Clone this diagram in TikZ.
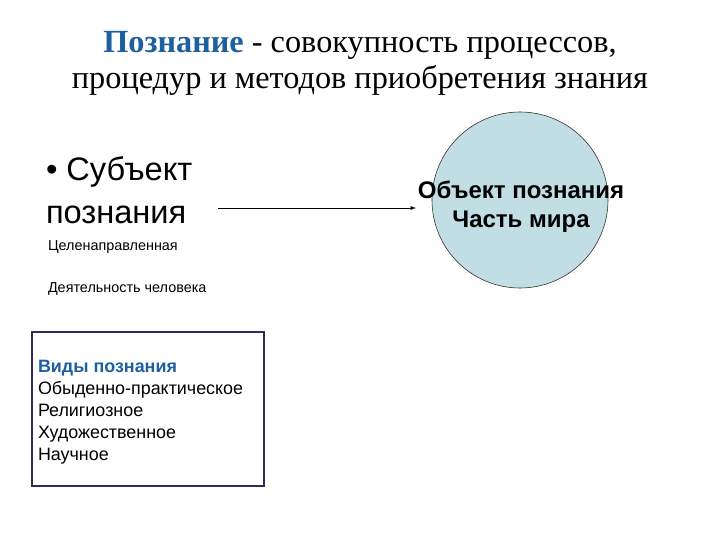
\documentclass[tikz,border=0pt]{standalone}
\usepackage{fontspec}
\setmainfont{Liberation Serif}
\newfontfamily\arialfont{Liberation Sans}
\usepackage{tikz}
\usetikzlibrary{arrows,positioning}
\definecolor{titleblue}{RGB}{30,95,160}
\definecolor{circfill}{RGB}{192,222,228}
\definecolor{boxframe}{RGB}{45,45,85}

\begin{document}
\begin{tikzpicture}[x=1pt,y=-1pt]
\tikzstyle{every node}=[inner sep=0pt,outer sep=0pt]
\tikzstyle{titletext}=[font=\fontsize{32.3}{36}\selectfont,align=center]
\tikzstyle{bigtext}=[font=\arialfont\fontsize{32.6}{36}\selectfont,anchor=west]
\tikzstyle{smalltext}=[font=\arialfont\fontsize{14.4}{16}\selectfont,anchor=west]
\tikzstyle{objcircle}=[circle,draw=black!80,fill=circfill,minimum size=176pt,line width=0.6pt]
\tikzstyle{kinds}=[draw=boxframe,line width=1.6pt,minimum width=232pt,minimum height=154pt,anchor=north west]
\useasboundingbox (0,0) rectangle (720,540);
% title
\node[titletext] (title) at (360,63)
{{\bfseries\color{titleblue}Познание} - совокупность процессов,\\
процедур и методов приобретения знания};
% subject
\node[bigtext] (subj1) at (46,172) {• Субъект};
\node[bigtext] (subj2) at (46,215) {познания};
\node[smalltext] (goal) at (48,247) {Целенаправленная};
\node[smalltext] (act) at (48,289) {Деятельность человека};
% object
\node[objcircle] (obj) at (520,200) {};
\node[font=\arialfont\bfseries\fontsize{24}{29}\selectfont,align=center] (objtext) at (521,207)
{Объект познания\\Часть мира};
\coordinate (arrstart) at (218,208);
\coordinate (arrend) at (416,208);
\draw[-latex,line width=0.9pt] (arrstart) -- (arrend);
% kinds of cognition
\node[kinds] (box) at (32,332) {};
\node[font=\arialfont\fontsize{17.9}{22}\selectfont,align=left,anchor=north west] (list) at (38,360)
{{\bfseries\color{titleblue}Виды познания}\\
Обыденно-практическое\\
Религиозное\\
Художественное\\
Научное};
\end{tikzpicture}
\end{document}
